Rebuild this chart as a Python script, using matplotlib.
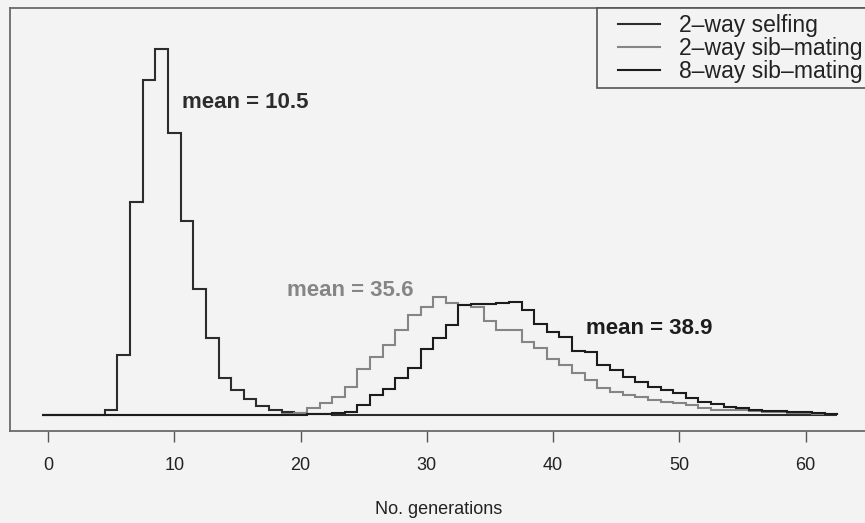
import numpy as np
import matplotlib.pyplot as plt
from matplotlib.lines import Line2D
from matplotlib.legend_handler import HandlerLine2D

# histogram heights per generation bin (arbitrary units)
n_bins = 63  # bins 0..62, centred on integers
selfing_first = 5
selfing = [5, 60, 213, 335, 366, 282, 194, 126, 77, 37, 25, 16, 9, 5, 3, 2, 1, 1]
sib2_first = 19
sib2 = [1, 2, 7, 12, 18, 28, 46, 58, 70, 85, 100, 108, 118, 112, 110,
        108, 94, 85, 85, 73, 67, 56, 50, 42, 35, 27, 23, 20, 18, 15,
        13, 12, 10, 7, 5, 5, 5, 4, 3, 3, 2, 2, 1, 1]
sib8_first = 21
sib8 = [1, 1, 2, 3, 10, 20, 26, 37, 47, 66, 77, 90, 110, 111, 111,
        112, 113, 105, 91, 83, 78, 64, 63, 50, 45, 38, 33, 28, 25, 22,
        17, 13, 11, 8, 7, 5, 4, 4, 3, 3, 2, 1]

labels = ['2\u2013way selfing', '2\u2013way sib\u2013mating', '8\u2013way sib\u2013mating']
colors = ['#2c2c2c', '#858585', '#1c1c1c']
means = [10.5, 35.6, 38.9]


def full(first, vals):
    out = np.zeros(n_bins)
    out[first:first + len(vals)] = vals
    return out


series = [full(selfing_first, selfing), full(sib2_first, sib2), full(sib8_first, sib8)]
edges = np.arange(n_bins + 1) - 0.5

bg = '#f3f3f3'
plt.rcParams['font.family'] = ['Liberation Sans', 'DejaVu Sans']

fig = plt.figure(figsize=(8.65, 5.23), dpi=100, facecolor=bg)
ax = fig.add_axes([10 / 865, 1 - 431 / 523, 858 / 865, 423 / 523], facecolor=bg)

for vals, col in zip(series, colors):
    ax.stairs(vals, edges, color=col, lw=1.5)

ax.set_xlim(-3.01, 64.93)
ax.set_ylim(-16, 407)
ax.set_xticks(range(0, 61, 10))
ax.set_yticks([])
ax.tick_params(axis='x', length=8, width=1, color='#555555', pad=11,
               labelsize=13, labelcolor='#222222')
for sp in ax.spines.values():
    sp.set_color('#6a6a6a')
    sp.set_linewidth(1.3)

# mean annotations
ax.text(10.6, 313, 'mean = %.1f' % means[0], fontsize=16, fontweight='bold',
        color=colors[0], va='center', ha='left')
ax.text(18.9, 125, 'mean = %.1f' % means[1], fontsize=16, fontweight='bold',
        color=colors[1], va='center', ha='left')
ax.text(42.6, 86, 'mean = %.1f' % means[2], fontsize=16, fontweight='bold',
        color=colors[2], va='center', ha='left')

fig.text(439 / 865, 1 - 510 / 523, 'No. generations', fontsize=13,
         color='#222222', ha='center', va='center')

handles = [Line2D([], [], color=c, lw=1.5) for c in colors]
leg = ax.legend(handles, labels, loc='upper right', bbox_to_anchor=(1, 1),
                borderaxespad=0, fontsize=16.5, handlelength=2.48,
                handletextpad=0.83, borderpad=0.25, labelspacing=0.0,
                handler_map={Line2D: HandlerLine2D(xpad=0.67)},
                fancybox=False, framealpha=1, facecolor=bg, edgecolor='#555555')
leg.get_frame().set_linewidth(1.2)
for t in leg.get_texts():
    t.set_color('#222222')

fig.savefig('out.png', dpi=100, facecolor=bg)
